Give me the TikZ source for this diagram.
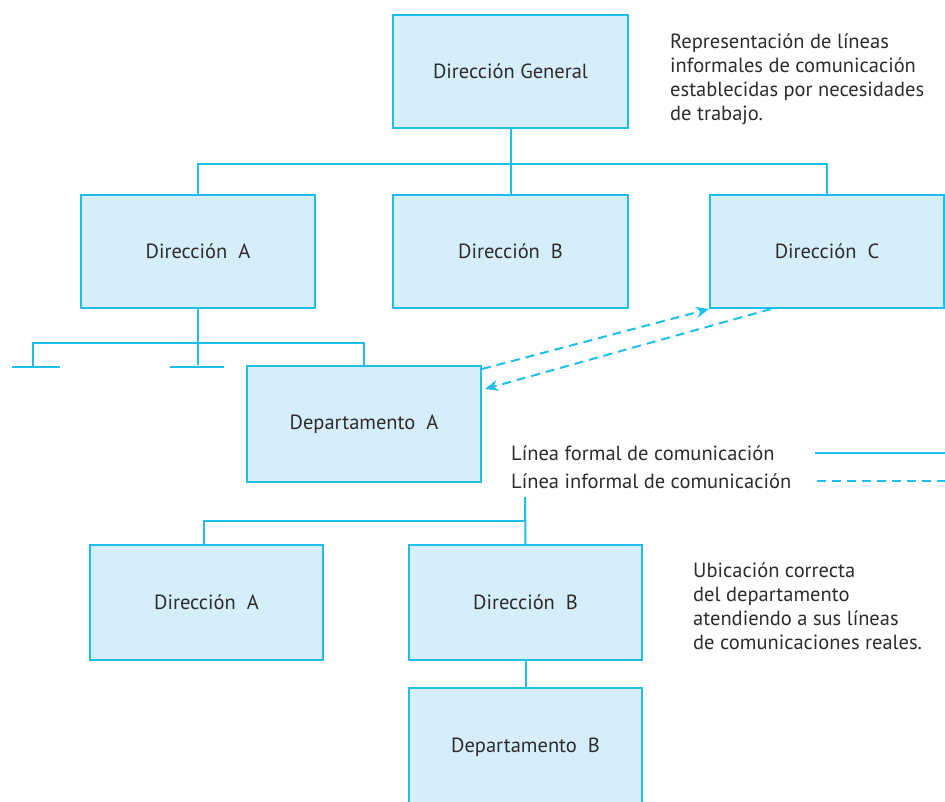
\documentclass[tikz,border=0pt]{standalone}
\usepackage{fontspec}
\setmainfont{PT Sans}
\usetikzlibrary{arrows.meta,calc}
\definecolor{lineblue}{HTML}{1FBEEB}
\definecolor{boxfill}{HTML}{D5EEFA}
\definecolor{txt}{HTML}{2C2C2C}
\tikzset{
  box/.style={draw=lineblue,fill=boxfill,line width=2pt,text=txt,inner sep=0pt,
    font=\fontsize{20.5}{24}\selectfont},
  formal/.style={draw=lineblue,line width=2pt},
  informal/.style={draw=lineblue,line width=2pt,dash pattern=on 9pt off 6pt},
  note/.style={text=txt,font=\fontsize{20.5}{24}\selectfont,align=left,anchor=north west,inner sep=0pt},
}
\begin{document}
\begin{tikzpicture}[x=1pt,y=-1pt]
\clip (0,0) rectangle (945,801);
\fill[white] (0,0) rectangle (945,801);
% top chart
\node[box,minimum width=235pt,minimum height=113pt] (dg) at (510.5,71.5) {Dirección General};
\node[box,minimum width=234pt,minimum height=113pt] (dirA) at (198,251.5) {Dirección~ A};
\node[box,minimum width=235pt,minimum height=113pt] (dirB) at (510.5,251.5) {Dirección~ B};
\node[box,minimum width=234pt,minimum height=113pt] (dirC) at (827,251.5) {Dirección~ C};
\node[box,minimum width=234pt,minimum height=116pt] (depA) at (364,424) {Departamento~ A};
\coordinate (h1) at (510.5,164);
\draw[formal] (dg.south) -- (dirB.north);
\draw[formal] (dirA.north) |- (h1) -| (dirC.north);
\coordinate (h2) at (198,343);
\coordinate (s1) at (33,367);
\draw[formal] (dirA.south) -- (dirA.south |- depA.north);
\draw[formal] (s1) |- (h2) -| (depA.north);
\coordinate (t1a) at (12,367);
\coordinate (t1b) at (60,367);
\coordinate (t2a) at (170,367);
\coordinate (t2b) at (224,367);
\draw[formal] (t1a) -- (t1b);
\draw[formal] (t2a) -- (t2b);
% informal arrows
\draw[informal,-{Stealth[length=13pt,width=11pt,inset=4pt]}] ([yshift=-4pt]depA.north east) -- (dirC.south west);
\draw[informal,-{Stealth[length=13pt,width=11pt,inset=4pt]}] ([xshift=62pt]dirC.south west) -- ([xshift=3pt,yshift=-24pt]depA.north east);
% notes
\node[note] (n1) at (670,34) {Representación de líneas\\informales de comunicación\\establecidas por necesidades\\de trabajo.};
% legend
\node[note,anchor=west] (l1) at (511,453) {Línea formal de comunicación};
\node[note,anchor=west] (l2) at (511,481) {Línea informal de comunicación};
\coordinate (la) at (815,453);
\coordinate (lb) at (945,453);
\coordinate (lc) at (817,481);
\coordinate (ld) at (945,481);
\draw[formal] (la) -- (lb);
\draw[informal] (lc) -- (ld);
% bottom chart
\node[box,minimum width=233pt,minimum height=115pt] (bA) at (206.5,602.5) {Dirección~ A};
\node[box,minimum width=233pt,minimum height=115pt] (bB) at (525.5,602.5) {Dirección~ B};
\node[box,minimum width=233pt,minimum height=118pt] (depB) at (525.5,747) {Departamento~ B};
\coordinate (top) at (525,497);
\coordinate (h3) at (525,521);
\draw[formal] (top) -- (bB.north);
\draw[formal] ([xshift=-3pt]bA.north) |- (h3);
\draw[formal] (bB.south) -- (depB.north);
\node[note] (n2) at (693,563) {Ubicación correcta\\del departamento\\atendiendo a sus líneas\\de comunicaciones reales.};
\end{tikzpicture}
\end{document}
